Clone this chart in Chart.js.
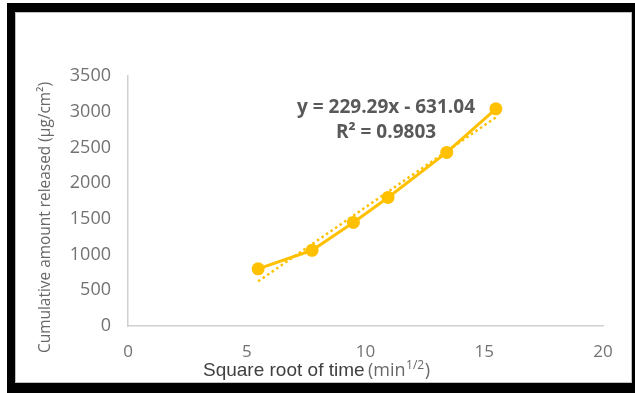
<!DOCTYPE html>
<html>
<head>
<meta charset="utf-8">
<script src="https://cdn.jsdelivr.net/npm/chart.js@4.4.1/dist/chart.umd.min.js"></script>
<style>
  html, body { margin: 0; padding: 0; background: #ffffff; width: 635px; height: 393px; overflow: hidden; }
  #outer { position: absolute; left: 7px; top: 3px; width: 628px; height: 390px; background: #000000; }
  #inner { position: absolute; left: 15px; top: 12px; width: 617px; height: 371px; background: #ffffff; border: 1px solid #c0c0c0; box-sizing: border-box; }
  #wrap { position: absolute; left: 0; top: 0; width: 635px; height: 393px; }
</style>
</head>
<body>
<div id="outer"></div>
<div id="inner"></div>
<div id="wrap"><canvas id="c" width="635" height="393"></canvas></div>
<script>
// ---- data ----
const sqrtTime = [5.48, 7.75, 9.49, 10.95, 13.42, 15.49];          // min^1/2
const cumulative = [800, 1060, 1450, 1800, 2430, 3040];             // µg/cm²
const trendSlope = 229.29;
const trendIntercept = -631.04;
const trendR2 = '0.9803';
const xTickValues = [0, 5, 10, 15, 20];
const yTickValues = [0, 500, 1000, 1500, 2000, 2500, 3000, 3500];
const yTitle = 'Cumulative amount released (µg/cm²)';
const xTitleMain = 'Square root of time';
const xTitleUnit = '(min';
const xTitleSup = '1/2';
const xTitleEnd = ')';
const equationText = 'y = ' + trendSlope + 'x - ' + Math.abs(trendIntercept).toFixed(2);
const r2Text = 'R² = ' + trendR2;

const seriesPoints = sqrtTime.map((x, i) => ({ x: x, y: cumulative[i] }));
const xFirst = sqrtTime[0], xLast = sqrtTime[sqrtTime.length - 1];
const trendPoints = [
  { x: xFirst, y: trendSlope * xFirst + trendIntercept },
  { x: xLast, y: trendSlope * xLast + trendIntercept }
];

const GOLD = '#FFC000';
const TICK_COLOR = '#727272';

const textPlugin = {
  id: 'texts',
  afterDraw(chart) {
    const ctx = chart.ctx;
    ctx.save();
    // Y axis title (rotated)
    ctx.font = '16px "Open Sans"';
    ctx.fillStyle = '#686868';
    ctx.textAlign = 'center';
    ctx.textBaseline = 'middle';
    const w = ctx.measureText(yTitle).width;
    const target = 271;
    ctx.translate(45, 217.5);
    ctx.rotate(-Math.PI / 2);
    ctx.scale(target / w, 1);
    ctx.fillText(yTitle, 0, 0);
    ctx.restore();

    // X axis title (mixed fonts)
    ctx.save();
    ctx.textBaseline = 'alphabetic';
    ctx.textAlign = 'left';
    const base = 376;
    ctx.font = '19px "Liberation Sans"';
    ctx.fillStyle = '#404040';
    ctx.fillText(xTitleMain, 203, base);
    let x = 368;
    ctx.font = '18px "Open Sans"';
    ctx.fillStyle = '#686868';
    ctx.fillText(xTitleUnit, x, base);
    x += ctx.measureText(xTitleUnit).width + 0.5;
    ctx.font = '12px "Open Sans"';
    ctx.fillText(xTitleSup, x, base - 7);
    x += ctx.measureText(xTitleSup).width + 0.5;
    ctx.font = '18px "Open Sans"';
    ctx.fillText(xTitleEnd, x, base);
    ctx.restore();

    // Trendline equation
    ctx.save();
    ctx.font = 'bold 19px "Open Sans"';
    ctx.fillStyle = '#595959';
    ctx.textAlign = 'center';
    ctx.textBaseline = 'middle';
    ctx.fillText(equationText, 386, 108);
    ctx.fillText(r2Text, 386, 133);
    ctx.restore();
  }
};

new Chart(document.getElementById('c'), {
  type: 'scatter',
  data: {
    datasets: [
      {
        label: 'Cumulative amount',
        data: seriesPoints,
        showLine: true,
        borderColor: GOLD,
        backgroundColor: GOLD,
        borderWidth: 3,
        pointRadius: 6.5,
        pointHoverRadius: 6.5,
        pointBorderWidth: 0,
        order: 1
      },
      {
        label: 'Linear trend',
        data: trendPoints,
        showLine: true,
        borderColor: GOLD,
        backgroundColor: GOLD,
        borderWidth: 2.5,
        borderDash: [2.5, 3],
        pointRadius: 0,
        pointHoverRadius: 0,
        order: 0
      }
    ]
  },
  options: {
    responsive: false,
    animation: false,
    devicePixelRatio: 1,
    layout: { padding: { top: 76, right: 32, left: 0, bottom: 0 } },
    plugins: { legend: { display: false }, tooltip: { enabled: false }, title: { display: false } },
    scales: {
      x: {
        type: 'linear',
        min: 0, max: 20,
        afterBuildTicks(scale) { scale.ticks = xTickValues.map(v => ({ value: v })); },
        afterFit(scale) { scale.height = 67; },
        grid: { display: false, drawTicks: false },
        border: { display: true, color: '#d0d0d0', width: 1.5 },
        ticks: { color: TICK_COLOR, font: { family: 'Open Sans', size: 17 }, padding: 16, maxRotation: 0,
                 callback: v => String(v) }
      },
      y: {
        type: 'linear',
        min: 0, max: 3500,
        afterBuildTicks(scale) { scale.ticks = yTickValues.map(v => ({ value: v })); },
        afterFit(scale) { scale.width = 128; },
        grid: { display: false, drawTicks: false },
        border: { display: true, color: '#d0d0d0', width: 1.5 },
        ticks: { color: TICK_COLOR, font: { family: 'Open Sans', size: 18 }, padding: 17,
                 callback: v => String(v) }
      }
    }
  },
  plugins: [textPlugin]
});
</script>
</body>
</html>
